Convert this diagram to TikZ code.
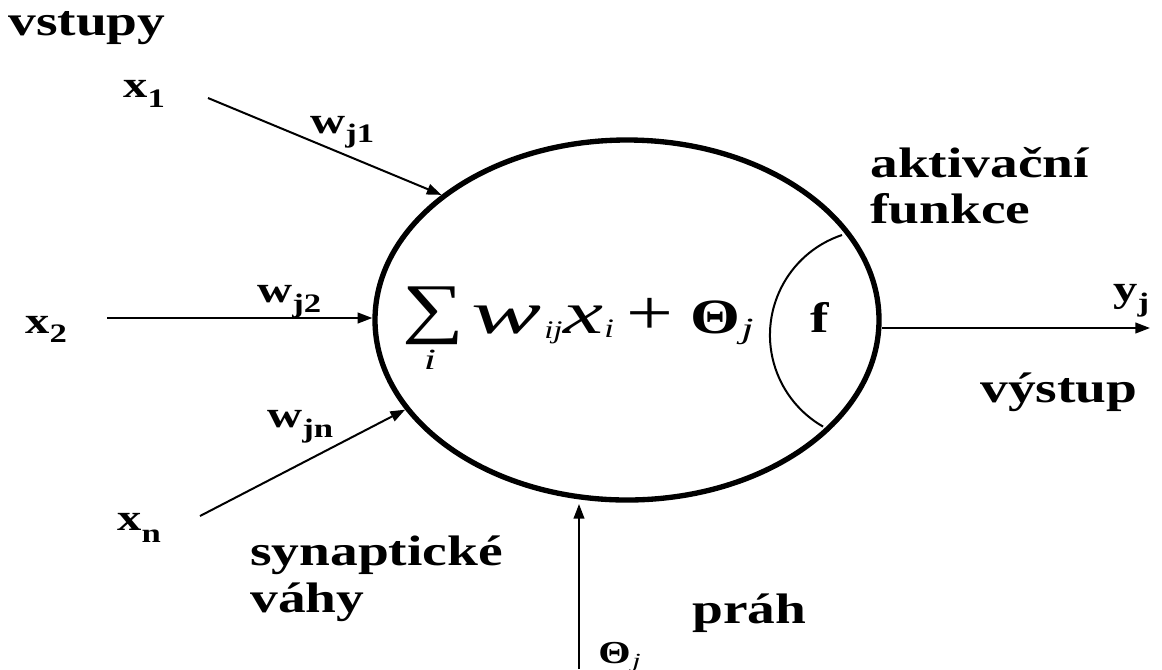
\documentclass[tikz,border=0pt]{standalone}
\usepackage{fontspec}
\setmainfont{Liberation Serif}
\newfontfamily\wf{Liberation Serif}[FakeStretch=1.3]
\newfontfamily\wi{Liberation Serif}[FakeStretch=1.5]
\newfontfamily\ww{Liberation Serif}[FakeStretch=1.75]
\usetikzlibrary{shapes.geometric,arrows.meta}
\newcommand\labsub[3]{{\wf\bfseries\fontsize{28}{30}\selectfont #1}\raisebox{-#3}{\wf\bfseries\fontsize{20}{22}\selectfont #2}}
\tikzset{
  lbl/.style={inner sep=0pt, anchor=base west, font=\wf\bfseries\fontsize{32}{36}\selectfont},
  var/.style={inner sep=0pt, anchor=base west},
  conn/.style={line width=1.5pt, -{Triangle[length=11pt,width=8pt]}},
}
\begin{document}
\begin{tikzpicture}[x=0.75pt,y=-0.75pt]
\useasboundingbox (0,0) rectangle (1162,669);
% neuron body
\node[draw, ellipse, line width=4pt, inner sep=0pt, minimum width=378pt, minimum height=270pt] (ell) at (627,320) {};
% activation arc
\draw[line width=1.5pt] (842,235) arc[start angle=251.5, end angle=119.8, radius=105.5];
% word labels
\node[lbl] (vst) at (8,35) {vstupy};
\node[lbl] (akt) at (870,177) {aktivační};
\node[lbl] (fun) at (870,223) {funkce};
\node[lbl] (vys) at (980,402) {výstup};
\node[lbl] (syn) at (250,565) {synaptické};
\node[lbl] (vah) at (250,612) {váhy};
\node[lbl] (prah) at (692,623) {práh};
% variables
\node[var] (x1) at (123,97) {\labsub{x}{1}{8pt}};
\node[var] (x2) at (25,333) {\labsub{x}{2}{6.75pt}};
\node[var] (xn) at (117,530) {\labsub{x}{n}{9pt}};
\node[var] (w1) at (310,133) {\labsub{w}{j1}{6.75pt}};
\node[var] (w2) at (257,302) {\labsub{w}{j2}{7.5pt}};
\node[var] (wn) at (267,427) {\labsub{w}{jn}{7.5pt}};
\node[var] (yj) at (1113,301) {\labsub{y}{j}{7.5pt}};
% formula
\node[inner sep=0pt, font=\wf\fontsize{50}{54}\selectfont] (sum) at (433,316) {∑};
\node[inner sep=0pt, anchor=base, font=\wi\itshape\fontsize{22}{24}\selectfont] (si) at (430,369) {i};
\node[var, font=\ww\itshape\fontsize{45}{48}\selectfont] (fw) at (471,333) {w};
\node[var, font=\wf\itshape\fontsize{19}{22}\selectfont] (fij) at (544,338) {ij};
\node[var, font=\wi\itshape\fontsize{45}{48}\selectfont] (fx) at (563,333) {x};
\node[var, font=\wf\itshape\fontsize{20}{22}\selectfont] (fi) at (604,337) {i};
\node[var, font=\wf\fontsize{48}{50}\selectfont] (fplus) at (626,334) {+};
\node[var, font=\wf\bfseries\fontsize{37}{40}\selectfont] (fth) at (690,333) {Θ};
\node[var, font=\wi\itshape\fontsize{22}{24}\selectfont] (fj) at (741,338) {j};
\node[var, font=\wf\bfseries\fontsize{32}{36}\selectfont] (ff) at (810,332) {f};
% threshold label
\node[var, font=\wf\bfseries\fontsize{24}{26}\selectfont] (tth) at (598,663) {Θ};
\node[var, font=\wi\itshape\fontsize{15}{17}\selectfont] (ttj) at (632,667) {j};
% connectors
\coordinate (x1s) at (208,98);
\coordinate (x2s) at (107,318);
\coordinate (xns) at (200,516);
\coordinate (yend) at (1150,328);
\coordinate (ths) at (579,669);
\coordinate (tht) at (579,504);
\draw[conn] (x1s) -- (ell.146.9);
\draw[conn] (x2s) -- (x2s -| ell.west);
\draw[conn] (xns) -- (ell.202.3);
\draw[conn] (yend -| ell.east) -- (yend);
\draw[conn] (ths) -- (tht);
\end{tikzpicture}
\end{document}
